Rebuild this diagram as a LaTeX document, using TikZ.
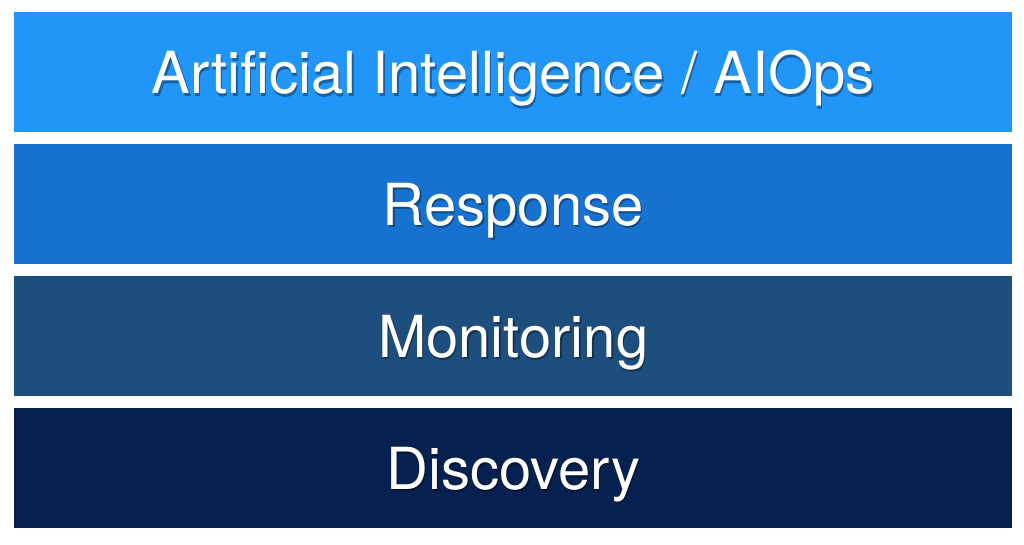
\documentclass[tikz,border=0pt]{standalone}
\usepackage{fontspec}
\setmainfont{TeX Gyre Heros}
\definecolor{cA}{HTML}{2196F8}
\definecolor{cB}{HTML}{1672CE}
\definecolor{cC}{HTML}{1E4E7E}
\definecolor{cD}{HTML}{06214F}
\tikzset{layer/.style={minimum width=998pt,minimum height=120pt,inner sep=0pt,anchor=north west,font=\fontsize{58}{58}\selectfont,text=white},
shadow/.style={layer,text=black,text opacity=0.35}}
\begin{document}
\begin{tikzpicture}[x=1pt,y=-1pt]
\useasboundingbox[fill=white] (0,0) rectangle (1024,544);
\foreach \n/\y/\c/\t in {a/12/cA/{Artificial Intelligence / AIOps},b/144/cB/Response,c/276/cC/Monitoring,d/408/cD/Discovery}{
  \fill[\c] (14,\y) rectangle ++(998,120);
  \node[shadow] (s\n) at (15.5,\y+8.5) {\t};
  \node[layer] (\n) at (14,\y+6) {\t};
}
\end{tikzpicture}
\end{document}
